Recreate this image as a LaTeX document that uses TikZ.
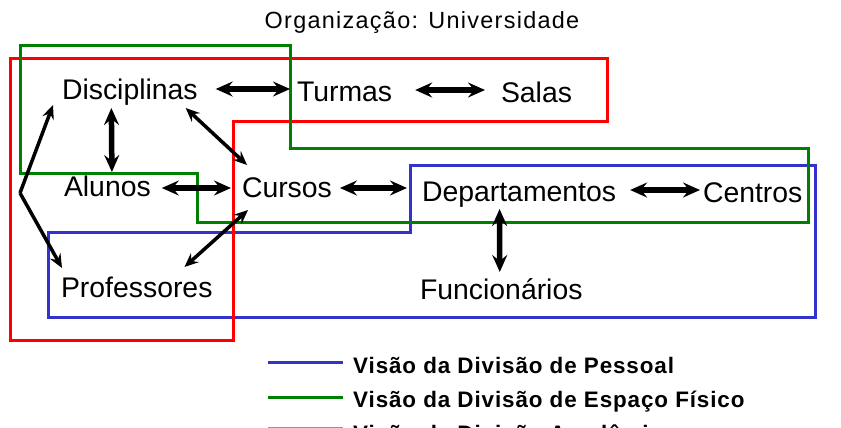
\documentclass[tikz,border=0pt]{standalone}
\usepackage{fontspec}
\setmainfont{Liberation Sans}
\newfontfamily\titlefont[LetterSpace=5.5]{Liberation Sans}
\newfontfamily\legfont[LetterSpace=4]{Liberation Sans}
\usetikzlibrary{arrows.meta,calc}
\definecolor{vblue}{RGB}{51,51,204}
\definecolor{vgreen}{RGB}{0,128,0}
\definecolor{vred}{RGB}{255,0,0}
\tikzset{
  lbl/.style={anchor=base west, inner sep=0pt, outer sep=0pt, text height=20bp, text depth=0pt,
              font=\fontsize{28.5}{30}\selectfont},
  legtxt/.style={anchor=base west, inner sep=0pt, font=\legfont\bfseries\fontsize{22.5}{24}\selectfont},
  view/.style={line width=3bp, line join=miter},
  tipst/.tip={Stealth[length=17bp,width=15bp,inset=6bp]},
  tipsd/.tip={Stealth[length=14bp,width=12bp,inset=5bp]},
  dbl/.style={line width=5.5bp, tipst-tipst},
  dbld/.style={line width=3.5bp, tipsd-tipsd},
  sgl/.style={line width=3.5bp, -tipsd},
}
\begin{document}
\begin{tikzpicture}[x=1bp,y=-1bp]
\useasboundingbox (0,0) rectangle (841,427);
\clip (0,0) rectangle (841,427);
\fill[white] (0,0) rectangle (841,427);

% title
\node[anchor=base, inner sep=0pt, font=\titlefont\fontsize{23.5}{25}\selectfont] (title) at (422,28) {Organização: Universidade};

% views
\draw[view, vblue] (48,232) -- (410,232) -- (410,165) -- (815,165) -- (815,317) -- (48,317) -- cycle;
\draw[view, vred] (10,58) -- (607,58) -- (607,121) -- (233,121) -- (233,340) -- (10,340) -- cycle;
\draw[view, vgreen] (20,45) -- (290,45) -- (290,148) -- (808,148) -- (808,222) -- (197,222) -- (197,173) -- (20,173) -- cycle;

% entities
\node[lbl] (disc) at (62,99) {Disciplinas};
\node[lbl] (turm) at (297,101) {Turmas};
\node[lbl] (sala) at (501,102) {Salas};
\node[lbl] (alun) at (64,196) {Alunos};
\node[lbl] (curs) at (242,197) {Cursos};
\node[lbl] (dept) at (422,201) {Departamentos};
\node[lbl] (cent) at (703,202) {Centros};
\node[lbl] (prof) at (61,297) {Professores};
\node[lbl] (func) at (420,299) {Funcionários};

% relationships
\draw[dbl] ($(disc.east)+(18,0)$) -- ($(turm.west)+(-7,-2)$);
\draw[dbl] ($(turm.east)+(23,-1)$) -- ($(sala.west)+(-16,-2)$);
\draw[dbl] ($(disc.south)+(-18.5,9)$) -- ($(alun.north)+(4.5,-4)$);
\draw[dbld] ($(disc.south east)+(-12,9)$) -- ($(curs.north west)+(5,-12)$);
\draw[dbl] ($(alun.east)+(11,2)$) -- ($(curs.west)+(-11,1)$);
\draw[dbl] ($(curs.east)+(8,1)$) -- ($(dept.west)+(-15,-3)$);
\draw[dbl] ($(dept.east)+(14,-1)$) -- ($(cent.west)+(-3,-2)$);
\draw[dbl] ($(dept.south)+(-19.5,8)$) -- ($(func.north)+(-1.5,-7)$);
\draw[dbld] ($(curs.south west)+(6,13)$) -- ($(prof.north east)+(-28,-10)$);
\coordinate (fork) at (20,193);
\draw[sgl] (fork) -- ($(disc.south west)+(-9,6)$);
\draw[sgl] (fork) -- ($(prof.north west)+(1,-9)$);

% legend
\coordinate (l1a) at (268,362); \coordinate (l1b) at (343,362);
\coordinate (l2a) at (268,397); \coordinate (l2b) at (343,397);
\coordinate (l3a) at (268,428.5); \coordinate (l3b) at (343,428.5);
\draw[line width=3bp, vblue] (l1a) -- (l1b);
\draw[line width=3bp, vgreen] (l2a) -- (l2b);
\draw[line width=3bp, vred!60] (l3a) -- (l3b);
\node[legtxt] (leg1) at (353,373) {Visão da Divisão de Pessoal};
\node[legtxt] (leg2) at (353,407) {Visão da Divisão de Espaço Físico};
\node[legtxt] (leg3) at (353,441) {Visão da Divisão Acadêmica};
\end{tikzpicture}
\end{document}
